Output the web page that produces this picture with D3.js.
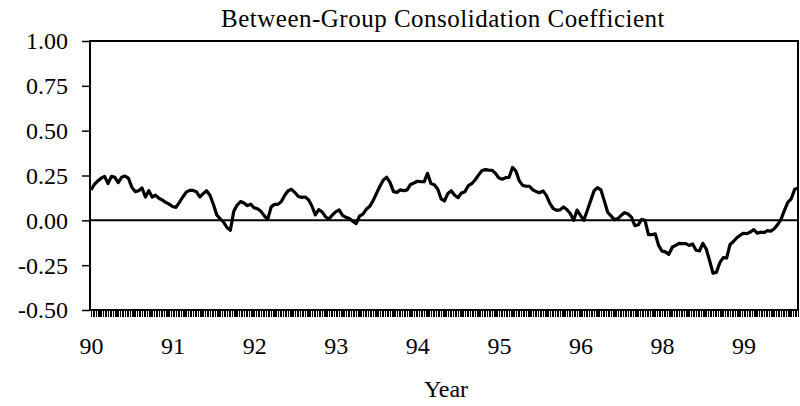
<!DOCTYPE html>
<html>
<head>
<meta charset="utf-8">
<script src="https://cdn.jsdelivr.net/npm/d3@7"></script>
<style>
  html, body { margin: 0; padding: 0; background: #fff; }
  svg { display: block; font-family: "Liberation Serif", "Times New Roman", serif; }
</style>
</head>
<body>
<svg id="chart" width="800" height="406"></svg>
<script>
// ---- data ----
const title = "Between-Group Consolidation Coefficient";
const xTitle = "Year";
// semi-monthly observations (24 per year)
const values = [
  0.17, 0.20, 0.22, 0.235, 0.245, 0.205, 0.245, 0.24, 0.21, 0.24,
  0.247, 0.235, 0.185, 0.16, 0.165, 0.18, 0.13, 0.165, 0.13, 0.14,
  0.123, 0.113, 0.10, 0.09, 0.077, 0.072, 0.10, 0.13, 0.157, 0.167,
  0.167, 0.16, 0.13, 0.149, 0.165, 0.14, 0.09, 0.03, 0.008, -0.01,
  -0.04, -0.055, 0.05, 0.085, 0.105, 0.097, 0.082, 0.09, 0.07, 0.065,
  0.05, 0.025, 0.005, 0.075, 0.089, 0.089, 0.105, 0.14, 0.165, 0.173,
  0.155, 0.133, 0.128, 0.13, 0.115, 0.08, 0.03, 0.06, 0.047, 0.02,
  0.007, 0.03, 0.047, 0.058, 0.028, 0.017, 0.01, -0.005, -0.018, 0.024,
  0.035, 0.062, 0.078, 0.11, 0.15, 0.19, 0.225, 0.24, 0.21, 0.16,
  0.156, 0.17, 0.165, 0.17, 0.2, 0.208, 0.218, 0.216, 0.215, 0.262,
  0.205, 0.198, 0.175, 0.12, 0.108, 0.15, 0.165, 0.14, 0.127, 0.153,
  0.16, 0.193, 0.205, 0.225, 0.252, 0.277, 0.283, 0.28, 0.279, 0.262,
  0.236, 0.229, 0.238, 0.24, 0.295, 0.275, 0.22, 0.195, 0.19, 0.19,
  0.17, 0.16, 0.154, 0.164, 0.138, 0.095, 0.065, 0.056, 0.058, 0.075,
  0.06, 0.038, 0.0, 0.057, 0.028, 0.0, 0.055, 0.11, 0.165, 0.182,
  0.17, 0.11, 0.045, 0.025, 0.003, 0.01, 0.028, 0.043, 0.035, 0.018,
  -0.03, -0.025, 0.005, 0.0, -0.08, -0.08, -0.075, -0.14, -0.172, -0.176,
  -0.19, -0.15, -0.14, -0.128, -0.13, -0.13, -0.14, -0.132, -0.167, -0.171,
  -0.128, -0.16, -0.225, -0.295, -0.29, -0.236, -0.208, -0.21, -0.135, -0.118,
  -0.097, -0.083, -0.072, -0.074, -0.065, -0.052, -0.072, -0.066, -0.068, -0.057,
  -0.06, -0.047, -0.024, 0.005, 0.055, 0.1, 0.12, 0.172, 0.18
];
const xTickIndex = [0, 24, 48, 72, 96, 120, 144, 168, 192];
const xTickLabels = ["90", "91", "92", "93", "94", "95", "96", "98", "99"];
const yTicks = [-0.5, -0.25, 0, 0.25, 0.5, 0.75, 1.0];

// ---- layout ----
const svg = d3.select("#chart");
const plot = { left: 90, right: 798, top: 41, bottom: 310 };

const x = d3.scaleLinear().domain([0, values.length - 1]).range([plot.left + 1, plot.right]);
const y = d3.scaleLinear().domain([-0.5, 1.0]).range([plot.bottom, plot.top]);

// title
svg.append("text")
  .attr("x", 443).attr("y", 27)
  .attr("text-anchor", "middle")
  .attr("font-size", 25)
  .attr("letter-spacing", 0.5)
  .attr("fill", "#000")
  .text(title);

// dense minor ticks along the bottom
const minorAxis = d3.axisBottom(x)
  .tickValues(d3.range(0, values.length - 1 + 0.001, 0.5))
  .tickSize(7).tickSizeOuter(0).tickFormat("");
const gm = svg.append("g").attr("transform", `translate(0,${plot.bottom})`).call(minorAxis);
gm.select(".domain").remove();
gm.selectAll(".tick line").attr("stroke", "#000").attr("stroke-width", 1.1).attr("shape-rendering", "crispEdges");

// x labels
const xAxis = d3.axisBottom(x)
  .tickValues(xTickIndex)
  .tickSize(0).tickSizeOuter(0)
  .tickFormat((d, i) => xTickLabels[i]);
const gx = svg.append("g").attr("transform", `translate(0,${plot.bottom})`).call(xAxis);
gx.select(".domain").remove();
gx.selectAll(".tick text")
  .attr("font-family", "Liberation Serif, Times New Roman, serif")
  .attr("font-size", 24).attr("fill", "#000")
  .attr("dy", 0).attr("y", 44);

// y axis
const yAxis = d3.axisLeft(y)
  .tickValues(yTicks)
  .tickSize(8).tickSizeOuter(0)
  .tickFormat(d => d.toFixed(2));
const gy = svg.append("g").attr("transform", `translate(${plot.left},0)`).call(yAxis);
gy.select(".domain").remove();
gy.selectAll(".tick line").attr("stroke", "#000").attr("stroke-width", 1.5);
gy.selectAll(".tick text")
  .attr("font-family", "Liberation Serif, Times New Roman, serif")
  .attr("font-size", 24).attr("fill", "#000")
  .attr("x", -22).attr("dy", "0.33em");

// frame
svg.append("rect")
  .attr("x", plot.left).attr("y", plot.top)
  .attr("width", plot.right - plot.left).attr("height", plot.bottom - plot.top)
  .attr("fill", "none").attr("stroke", "#000").attr("stroke-width", 2);

// zero line
svg.append("line")
  .attr("x1", plot.left).attr("x2", plot.right)
  .attr("y1", y(0)).attr("y2", y(0))
  .attr("stroke", "#000").attr("stroke-width", 2);

// series line
const line = d3.line().x((d, i) => x(i)).y(d => y(d));
svg.append("path")
  .datum(values)
  .attr("d", line)
  .attr("fill", "none")
  .attr("stroke", "#000")
  .attr("stroke-width", 3.2)
  .attr("stroke-linejoin", "round");

// x title
svg.append("text")
  .attr("x", 446).attr("y", 397)
  .attr("text-anchor", "middle")
  .attr("font-size", 24)
  .attr("fill", "#000")
  .text(xTitle);
</script>
</body>
</html>
